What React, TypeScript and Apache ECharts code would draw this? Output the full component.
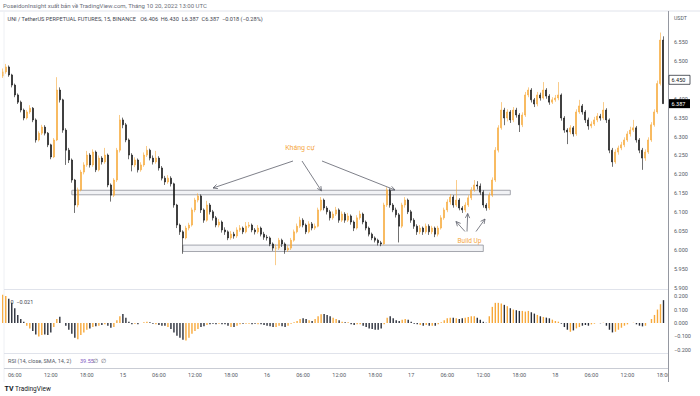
import React, { useEffect, useRef } from "react";
import * as echarts from "echarts";

// ---------- time axis (30-minute bars, 14 04:00 -> 18 18:30) ----------
const startDay = 14;
const startHour = 4;
const stepMinutes = 30;
const categoryCount = 222;
const pad = (n: number) => (n < 10 ? "0" + n : "" + n);
const categories: string[] = [];
for (let i = 0; i < categoryCount; i++) {
  const t = startHour * 60 + i * stepMinutes;
  const d = startDay + Math.floor(t / 1440);
  const m = t % 1440;
  categories.push(`${d} ${pad(Math.floor(m / 60))}:${pad(m % 60)}`);
}

// ---------- price data (UNI/USDT) ----------
const firstOpen = 6.46;
const closes = [
  6.471, 6.484, 6.463, 6.436, 6.41, 6.391, 6.37, 6.349, 6.365, 6.375,
  6.344, 6.291, 6.309, 6.325, 6.309, 6.278, 6.246, 6.291, 6.423, 6.397,
  6.317, 6.264, 6.238, 6.185, 6.119, 6.159, 6.206, 6.225, 6.251, 6.225,
  6.259, 6.212, 6.243, 6.233, 6.251, 6.172, 6.145, 6.185, 6.264, 6.344,
  6.331, 6.291, 6.251, 6.225, 6.238, 6.212, 6.225, 6.251, 6.264, 6.243,
  6.233, 6.243, 6.217, 6.19, 6.18, 6.19, 6.175, 6.119, 6.066, 6.048,
  6.032, 6.058, 6.066, 6.106, 6.132, 6.143, 6.106, 6.079, 6.119, 6.101,
  6.085, 6.066, 6.074, 6.053, 6.048, 6.032, 6.042, 6.037, 6.053, 6.058,
  6.048, 6.063, 6.066, 6.053, 6.048, 6.058, 6.042, 6.034, 6.032, 6.016,
  6.005, 6.005, 6.026, 6.016, 6.0, 6.005, 6.026, 6.048, 6.063, 6.079,
  6.066, 6.048, 6.069, 6.058, 6.063, 6.106, 6.132, 6.111, 6.101, 6.085,
  6.095, 6.106, 6.079, 6.095, 6.079, 6.09, 6.074, 6.058, 6.085, 6.095,
  6.074, 6.058, 6.042, 6.032, 6.026, 6.019, 6.016, 6.119, 6.159, 6.119,
  6.106, 6.093, 6.063, 6.119, 6.132, 6.101, 6.079, 6.063, 6.048, 6.058,
  6.048, 6.063, 6.048, 6.058, 6.042, 6.058, 6.085, 6.106, 6.127, 6.14,
  6.119, 6.132, 6.111, 6.106, 6.119, 6.138, 6.159, 6.172, 6.169, 6.153,
  6.119, 6.111, 6.145, 6.185, 6.264, 6.323, 6.37, 6.349, 6.365, 6.344,
  6.37, 6.357, 6.331, 6.357, 6.41, 6.423, 6.397, 6.386, 6.41, 6.402,
  6.423, 6.407, 6.391, 6.397, 6.402, 6.41, 6.349, 6.317, 6.312, 6.323,
  6.307, 6.365, 6.381, 6.365, 6.344, 6.328, 6.333, 6.344, 6.354, 6.349,
  6.37, 6.344, 6.264, 6.233, 6.259, 6.27, 6.278, 6.291, 6.307, 6.317,
  6.323, 6.291, 6.264, 6.243, 6.259, 6.291, 6.331, 6.365, 6.44, 6.555,
  6.387,
];
const highs = [
  6.48, 6.492, 6.488, 6.466, 6.44, 6.414, 6.395, 6.374, 6.37, 6.383,
  6.378, 6.348, 6.314, 6.331, 6.33, 6.312, 6.281, 6.296, 6.457, 6.43,
  6.4, 6.322, 6.27, 6.242, 6.188, 6.165, 6.212, 6.232, 6.262, 6.256,
  6.266, 6.263, 6.25, 6.248, 6.27, 6.255, 6.176, 6.19, 6.27, 6.357,
  6.35, 6.336, 6.295, 6.256, 6.245, 6.242, 6.232, 6.258, 6.275, 6.268,
  6.25, 6.262, 6.248, 6.222, 6.196, 6.198, 6.195, 6.178, 6.122, 6.07,
  6.052, 6.064, 6.072, 6.112, 6.138, 6.15, 6.147, 6.11, 6.13, 6.124,
  6.106, 6.09, 6.082, 6.078, 6.06, 6.052, 6.05, 6.048, 6.06, 6.066,
  6.062, 6.074, 6.074, 6.07, 6.058, 6.066, 6.062, 6.048, 6.04, 6.036,
  6.02, 6.015, 6.032, 6.03, 6.02, 6.012, 6.032, 6.054, 6.07, 6.088,
  6.084, 6.07, 6.076, 6.074, 6.07, 6.112, 6.14, 6.136, 6.116, 6.106,
  6.102, 6.114, 6.11, 6.102, 6.1, 6.098, 6.094, 6.078, 6.092, 6.104,
  6.099, 6.078, 6.062, 6.046, 6.036, 6.03, 6.024, 6.125, 6.166, 6.163,
  6.124, 6.112, 6.098, 6.125, 6.14, 6.136, 6.106, 6.084, 6.068, 6.066,
  6.062, 6.07, 6.068, 6.064, 6.062, 6.064, 6.092, 6.112, 6.134, 6.148,
  6.145, 6.185, 6.137, 6.116, 6.126, 6.145, 6.166, 6.185, 6.182, 6.176,
  6.158, 6.124, 6.152, 6.192, 6.272, 6.33, 6.391, 6.376, 6.372, 6.37,
  6.378, 6.376, 6.362, 6.364, 6.418, 6.43, 6.428, 6.402, 6.418, 6.416,
  6.444, 6.428, 6.412, 6.404, 6.41, 6.444, 6.414, 6.354, 6.322, 6.33,
  6.328, 6.372, 6.397, 6.386, 6.37, 6.35, 6.34, 6.352, 6.362, 6.36,
  6.391, 6.375, 6.348, 6.27, 6.266, 6.276, 6.286, 6.298, 6.314, 6.326,
  6.344, 6.328, 6.296, 6.27, 6.266, 6.298, 6.338, 6.372, 6.448, 6.575,
  6.565,
];
const lows = [
  6.455, 6.466, 6.458, 6.43, 6.404, 6.386, 6.364, 6.343, 6.345, 6.36,
  6.338, 6.284, 6.287, 6.304, 6.303, 6.272, 6.24, 6.243, 6.288, 6.39,
  6.31, 6.225, 6.23, 6.178, 6.098, 6.113, 6.155, 6.2, 6.22, 6.218,
  6.22, 6.206, 6.208, 6.226, 6.228, 6.166, 6.128, 6.14, 6.18, 6.258,
  6.322, 6.285, 6.24, 6.208, 6.219, 6.205, 6.207, 6.22, 6.246, 6.237,
  6.226, 6.228, 6.21, 6.184, 6.172, 6.175, 6.168, 6.112, 6.058, 6.04,
  5.99, 6.028, 6.052, 6.062, 6.1, 6.126, 6.098, 6.072, 6.075, 6.094,
  6.078, 6.06, 6.06, 6.046, 6.04, 6.026, 6.027, 6.03, 6.032, 6.048,
  6.042, 6.044, 6.058, 6.047, 6.041, 6.043, 6.036, 6.027, 6.025, 6.01,
  5.998, 5.96, 6.0, 6.008, 5.99, 5.995, 6.0, 6.022, 6.044, 6.058,
  6.06, 6.042, 6.044, 6.052, 6.053, 6.06, 6.102, 6.105, 6.094, 6.078,
  6.08, 6.09, 6.072, 6.074, 6.072, 6.074, 6.067, 6.05, 6.054, 6.08,
  6.068, 6.052, 6.036, 6.026, 6.02, 6.012, 6.01, 6.014, 6.114, 6.112,
  6.1, 6.086, 6.02, 6.058, 6.112, 6.095, 6.072, 6.056, 6.04, 6.042,
  6.04, 6.043, 6.04, 6.042, 6.034, 6.036, 6.054, 6.08, 6.1, 6.12,
  6.112, 6.114, 6.105, 6.098, 6.1, 6.114, 6.132, 6.154, 6.16, 6.146,
  6.112, 6.104, 6.106, 6.14, 6.18, 6.258, 6.318, 6.33, 6.34, 6.336,
  6.338, 6.35, 6.312, 6.325, 6.352, 6.404, 6.39, 6.378, 6.38, 6.395,
  6.398, 6.4, 6.384, 6.386, 6.392, 6.396, 6.342, 6.31, 6.28, 6.306,
  6.3, 6.302, 6.36, 6.358, 6.336, 6.318, 6.322, 6.328, 6.338, 6.342,
  6.344, 6.336, 6.256, 6.22, 6.228, 6.252, 6.264, 6.272, 6.286, 6.3,
  6.312, 6.284, 6.256, 6.212, 6.236, 6.254, 6.286, 6.326, 6.36, 6.435,
  6.387,
];

// ---------- oscillator histogram ----------
const oscillator = [
  0.21, 0.2, 0.18, 0.15, 0.11, 0.06, 0.03, 0.01, -0.02, -0.04,
  -0.06, -0.085, -0.1, -0.09, -0.085, -0.09, -0.07, -0.03, 0.03, 0.047,
  0.0, -0.02, -0.05, -0.08, -0.11, -0.12, -0.09, -0.07, -0.05, -0.04,
  -0.03, -0.025, -0.02, -0.015, -0.01, -0.02, -0.035, -0.03, 0.02, 0.05,
  0.067, 0.04, 0.01, -0.01, -0.005, -0.01, 0.0, 0.005, 0.01, 0.005,
  -0.005, -0.01, -0.015, -0.02, -0.02, -0.03, -0.045, -0.07, -0.095, -0.11,
  -0.125, -0.13, -0.11, -0.08, -0.06, -0.045, -0.03, -0.025, -0.015, -0.01,
  -0.005, -0.01, -0.005, -0.01, -0.01, -0.02, -0.03, -0.03, -0.02, -0.01,
  -0.005, -0.005, -0.005, -0.01, -0.005, -0.01, -0.01, -0.015, -0.02, -0.025,
  -0.03, -0.03, -0.02, -0.025, -0.03, -0.02, -0.005, 0.005, 0.015, 0.03,
  0.035, 0.03, 0.02, 0.015, 0.03, 0.05, 0.065, 0.067, 0.06, 0.05,
  0.04, 0.03, 0.02, 0.01, 0.005, 0.005, -0.01, -0.015, -0.01, -0.01,
  -0.02, -0.03, -0.04, -0.045, -0.05, -0.05, -0.04, -0.01, 0.04, 0.05,
  0.035, 0.02, 0.015, 0.025, 0.03, 0.025, 0.01, -0.005, -0.01, -0.015,
  -0.02, -0.015, -0.02, -0.02, -0.02, -0.01, 0.005, 0.02, 0.035, 0.04,
  0.04, 0.035, 0.03, 0.035, 0.04, 0.045, 0.05, 0.05, 0.04, 0.025,
  0.01, 0.002, 0.05, 0.12, 0.15, 0.15, 0.145, 0.135, 0.125, 0.11,
  0.1, 0.095, 0.09, 0.09, 0.085, 0.09, 0.08, 0.07, 0.06, 0.05,
  0.045, 0.04, 0.035, 0.025, 0.015, 0.01, -0.005, -0.03, -0.05, -0.065,
  -0.055, -0.04, -0.03, -0.02, -0.015, -0.02, -0.01, -0.005, 0.0, -0.002,
  0.002, -0.02, -0.05, -0.07, -0.065, -0.05, -0.035, -0.02, -0.01, 0.0,
  0.002, -0.01, -0.02, -0.025, -0.02, 0.0, 0.03, 0.06, 0.1, 0.14,
  0.17,
];

// ---------- annotations (time, price) ----------
const zones = [
  { from: "14 15:30", to: "17 16:30", low: 6.146, high: 6.158 },
  { from: "15 10:00", to: "17 12:00", low: 5.996, high: 6.013 },
];
const lastPrice = 6.387;
const markedPrice = 6.45;

const UP = "#f7a93b";
const DOWN = "#111111";
const HIST_DOWN = "#2a2e39";
const GRAY = "#555a66";
const FONT = "Roboto";

function arrow(x1: number, y1: number, x2: number, y2: number, color: string) {
  const ang = Math.atan2(y2 - y1, x2 - x1);
  const L = 5;
  const a = 0.45;
  const p1 = [x2 - L * Math.cos(ang - a), y2 - L * Math.sin(ang - a)];
  const p2 = [x2 - L * Math.cos(ang + a), y2 - L * Math.sin(ang + a)];
  return [
    { type: "line", z: 50, silent: true, shape: { x1, y1, x2, y2 }, style: { stroke: color, lineWidth: 0.8 } },
    { type: "polyline", z: 50, silent: true, shape: { points: [p1, [x2, y2], p2] }, style: { stroke: color, fill: null, lineWidth: 0.8 } },
  ];
}

function txt(x: number, y: number, text: string, size: number, fill: string, extra: any = {}, z = 60) {
  return {
    type: "text",
    z,
    silent: true,
    x,
    y,
    style: { text, fill, fontSize: size, fontFamily: FONT, align: "left", verticalAlign: "middle", ...extra },
  };
}

export default function App() {
  const ref = useRef<HTMLDivElement>(null);
  useEffect(() => {
    if (!ref.current) return;
    const chart = echarts.init(ref.current, null, { renderer: "svg" });

    const opens = closes.map((c, i) => (i === 0 ? firstOpen : closes[i - 1]));
    const candleData = closes.map((c, i) => [opens[i], c, lows[i], highs[i]]);
    const histData = oscillator.map((v, i) => ({
      value: v,
      itemStyle: { color: closes[i] >= opens[i] ? UP : HIST_DOWN },
    }));

    const gridLeft = 1.25;
    const gridWidth = 666.75;

    chart.setOption({
      animation: false,
      backgroundColor: "#ffffff",
      textStyle: { fontFamily: FONT },
      grid: [
        { left: gridLeft, width: gridWidth, top: 23.09, height: 264.74 },
        { left: gridLeft, width: gridWidth, top: 289.4, height: 60.5 },
        { left: gridLeft, width: gridWidth, top: 360, height: 8.5 },
      ],
      xAxis: [0, 1, 2].map((g) => ({
        type: "category",
        gridIndex: g,
        data: categories,
        boundaryGap: true,
        axisLine: { show: false },
        axisTick: { show: false },
        splitLine: { show: false },
        axisLabel:
          g === 2
            ? {
                show: true,
                fontSize: 5.5,
                color: GRAY,
                margin: 3,
                interval: (idx: number, val: string) => {
                  const hm = val.split(" ")[1];
                  const [h, m] = hm.split(":").map(Number);
                  return m === 0 && h % 6 === 0;
                },
                formatter: (val: string) => {
                  const [d, hm] = val.split(" ");
                  return hm === "00:00" ? d : hm;
                },
              }
            : { show: false },
      })),
      yAxis: [
        {
          type: "value",
          gridIndex: 0,
          position: "right",
          min: 5.9,
          max: 6.6,
          interval: 0.05,
          axisLine: { show: false },
          axisTick: { show: false },
          splitLine: { show: false },
          axisLabel: {
            fontSize: 5.5,
            color: GRAY,
            margin: 6,
            formatter: (v: number) =>
              v > 6.575 || Math.abs(v - markedPrice) < 1e-6 ? "" : v.toFixed(3),
          },
        },
        {
          type: "value",
          gridIndex: 1,
          position: "right",
          min: -0.2,
          max: 0.25,
          interval: 0.1,
          axisLine: { show: false },
          axisTick: { show: false },
          splitLine: { show: false },
          axisLabel: {
            fontSize: 5.5,
            color: GRAY,
            margin: 6,
            showMaxLabel: false,
            formatter: (v: number) => (v < -1e-9 ? "\u2212" : "") + Math.abs(v).toFixed(3),
          },
        },
        { type: "value", gridIndex: 2, show: false },
      ],
      series: [
        {
          type: "candlestick",
          xAxisIndex: 0,
          yAxisIndex: 0,
          data: candleData,
          barWidth: 1.5,
          itemStyle: { color: UP, color0: DOWN, borderColor: UP, borderColor0: DOWN, borderWidth: 0.6 },
          markArea: {
            silent: true,
            itemStyle: { color: "rgba(190,195,210,0.22)", borderColor: "#8e9099", borderWidth: 0.8 },
            data: zones.map((z) => [
              { xAxis: z.from, yAxis: z.high },
              { xAxis: z.to, yAxis: z.low },
            ]),
          },
        },
        {
          type: "bar",
          xAxisIndex: 1,
          yAxisIndex: 1,
          data: histData,
          barWidth: 1.4,
        },
      ],
    });

    const yLast = chart.convertToPixel({ yAxisIndex: 0 }, lastPrice) as number;
    const yMarked = chart.convertToPixel({ yAxisIndex: 0 }, markedPrice) as number;
    const axisX = 668.5;
    const lineColor = "#e0e3eb";

    const graphic: any[] = [
      // frame / pane separators
      { type: "line", z: 40, silent: true, shape: { x1: 0, y1: 11, x2: 700, y2: 11 }, style: { stroke: lineColor, lineWidth: 1 } },
      { type: "line", z: 40, silent: true, shape: { x1: 4, y1: 11, x2: 4, y2: 382 }, style: { stroke: "#eef0f4", lineWidth: 1 } },
      { type: "line", z: 40, silent: true, shape: { x1: 4, y1: 289.5, x2: axisX, y2: 289.5 }, style: { stroke: lineColor, lineWidth: 1 } },
      { type: "line", z: 40, silent: true, shape: { x1: 4, y1: 353.5, x2: axisX, y2: 353.5 }, style: { stroke: lineColor, lineWidth: 1 } },
      { type: "line", z: 40, silent: true, shape: { x1: 4, y1: 368.5, x2: axisX, y2: 368.5 }, style: { stroke: "#c9ccd4", lineWidth: 1 } },
      // clip of last time label beyond the price axis
      { type: "rect", z: 45, silent: true, shape: { x: axisX, y: 369, width: 32, height: 12 }, style: { fill: "#ffffff" } },
      { type: "line", z: 46, silent: true, shape: { x1: axisX, y1: 11, x2: axisX, y2: 382 }, style: { stroke: "#9598a1", lineWidth: 1 } },
      // headers
      txt(3, 5.5, "PoseidonInsight xuất bản về TradingView.com, Tháng 10 20, 2022 13:00 UTC", 6, "#6a6d78"),
      txt(7.5, 18.5, "UNI / TetherUS PERPETUAL FUTURES, 15, BINANCE   O6.406  H6.430  L6.387  C6.387  \u22120.018 (\u22120.28%)", 5.6, "#434651"),
      txt(674, 17.5, "USDT", 5.2, GRAY),
      // oscillator legend
      txt(10.5, 302, "0  \u22120.021", 5.5, "#434651"),
      // RSI pane header
      txt(8, 361, "RSI (14, close, SMA, 14, 2)", 5.5, GRAY),
      txt(80, 361, "39.55", 5.5, "#7e57c2"),
      txt(93, 361, "\u2205  \u2205", 5.5, GRAY),
      // footer
      txt(4.5, 388.5, "TV", 7, "#131722", { fontWeight: "bold" }),
      txt(15, 388.5, "TradingView", 6.5, "#131722"),
      // price tags
      { type: "rect", z: 70, silent: true, shape: { x: 669, y: yMarked - 4.5, width: 21, height: 9 }, style: { fill: "#ffffff", stroke: "#131722", lineWidth: 0.7 } },
      txt(671.5, yMarked, markedPrice.toFixed(3), 5.5, "#131722", {}, 75),
      { type: "rect", z: 70, silent: true, shape: { x: 669, y: yLast - 4.5, width: 21, height: 9 }, style: { fill: "#000000" } },
      txt(671.5, yLast, lastPrice.toFixed(3), 5.5, "#ffffff", {}, 75),
      // annotations
      txt(300, 148, "Kháng cự", 7, "#f5a742", { align: "center" }),
      ...arrow(293, 161, 213, 188, "#5d606b"),
      ...arrow(302, 161, 321.5, 191, "#5d606b"),
      ...arrow(322, 161, 395, 190, "#5d606b"),
      txt(469.5, 240.5, "Build Up", 6.5, "#f5a742", { align: "center" }),
      ...arrow(465, 231.5, 456, 221.5, "#5d606b"),
      ...arrow(467, 231.5, 467.7, 213.5, "#5d606b"),
      ...arrow(476, 231.5, 485, 219, "#5d606b"),
    ];
    chart.setOption({ graphic });

    return () => chart.dispose();
  }, []);

  return <div ref={ref} style={{ position: "fixed", left: 0, top: 0, width: 700, height: 396 }} />;
}
